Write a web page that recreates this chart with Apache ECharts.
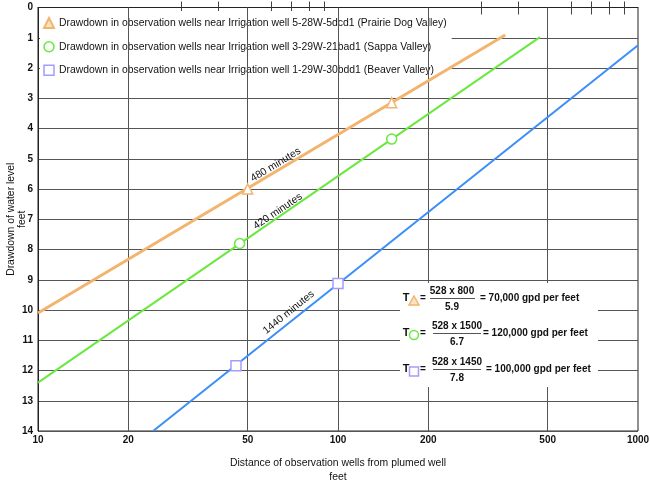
<!DOCTYPE html>
<html>
<head>
<meta charset="utf-8">
<script src="https://cdn.jsdelivr.net/npm/echarts@6/dist/echarts.min.js"></script>
<style>html,body{margin:0;padding:0;background:#fff}#c{width:650px;height:497px}</style>
</head>
<body>
<div id="c"></div>
<script>
// ---- data ----
const seriesNames = [
  'Drawdown in observation wells near Irrigation well 5-28W-5dcd1 (Prairie Dog Valley)',
  'Drawdown in observation wells near Irrigation well 3-29W-21bad1 (Sappa Valley)',
  'Drawdown in observation wells near Irrigation well 1-29W-30bdd1 (Beaver Valley)'
];
// straight-line fits (end points), distance in feet, drawdown in feet
const lineDistPrairie = [10, 361];
const lineDrawPrairie = [10.1, 0.91];
const lineDistSappa = [10, 471];
const lineDrawSappa = [12.4, 0.98];
const lineDistBeaver = [24.2, 1000];
const lineDrawBeaver = [14, 1.25];
// observation wells
const obsDistPrairie = [50, 151];
const obsDrawPrairie = [6.0, 3.15];
const obsDistSappa = [47, 151];
const obsDrawSappa = [7.8, 4.35];
const obsDistBeaver = [45.7, 100];
const obsDrawBeaver = [11.84, 9.12];
// durations labels
const durationLabels = ['480 minutes', '420 minutes', '1440 minutes'];
const durationDist = [62, 63, 68.5];
const durationDraw = [5.2, 6.74, 10.08];
// axis ticks
const xTickLabels = [10, 20, 50, 100, 200, 500, 1000];
const xGridValues = [20, 50, 100, 200, 500];
const xMinorTicks = [30, 40, 60, 70, 80, 90, 300, 400, 600, 700, 800, 900];

const FONT = 'Liberation Sans, Arial, Helvetica, sans-serif';
const cOrange = '#f2b46e', cGreen = '#6ae840', cBlue = '#3b8ef8', cBlueEdge = '#a49cff';

const zip = (a, b) => a.map((v, i) => [v, b[i]]);

const chart = echarts.init(document.getElementById('c'), null, {renderer: 'canvas'});

function lineSeries(name, xs, ys, color, width, extra) {
  return Object.assign({
    name: name, type: 'line', data: zip(xs, ys), showSymbol: false, symbol: 'none',
    lineStyle: {color: color, width: width}, itemStyle: {color: color}, z: 6, silent: true,
    animation: false
  }, extra || {});
}
function scatterSeries(name, xs, ys, symbol, size, border, bw) {
  return {
    name: name, type: 'scatter', data: zip(xs, ys), symbol: symbol, symbolSize: size,
    itemStyle: {color: '#fff', borderColor: border, borderWidth: bw, opacity: 1}, z: 7, animation: false
  };
}

const durationMark = (i, rot) => ({
  symbol: 'circle', symbolSize: 0, silent: true, animation: false,
  label: {show: true, position: 'inside', formatter: '{b}', rotate: rot, fontSize: 10.4, fontFamily: FONT, color: '#111'},
  data: [{name: durationLabels[i], coord: [durationDist[i], durationDraw[i]]}]
});

const option = {
  animation: false,
  grid: {left: 38, right: 12, top: 7.5, bottom: 66, show: true, borderColor: '#222', borderWidth: 1,
    containLabel: false, outerBoundsMode: 'none'},
  xAxis: [{
    type: 'log', logBase: 10, min: 10, max: 1000, position: 'bottom',
    name: 'Distance of observation wells from plumed well\nfeet', nameLocation: 'middle', nameGap: 25,
    nameMoveOverlap: false,
    nameTextStyle: {fontSize: 10.4, fontFamily: FONT, color: '#111', lineHeight: 14},
    axisLine: {show: true, lineStyle: {color: '#222', width: 1}},
    axisTick: {show: true, inside: true, length: 6, customValues: xMinorTicks, lineStyle: {color: '#444'}},
    axisLabel: {show: true, customValues: xTickLabels, fontSize: 10, fontWeight: 'bold', fontFamily: FONT, color: '#111', margin: 4,
      formatter: v => String(Math.round(v))},
    splitLine: {show: false}
  }, {
    type: 'log', logBase: 10, min: 10, max: 1000, position: 'top',
    axisLine: {show: false},
    axisTick: {show: true, inside: true, length: 7, customValues: xMinorTicks, lineStyle: {color: '#444'}},
    axisLabel: {show: false},
    splitLine: {show: false}
  }],
  yAxis: {
    type: 'value', inverse: true, min: 0, max: 14, interval: 1,
    name: 'Drawdown of water level\nfeet', nameLocation: 'middle', nameGap: 10, nameRotate: 90,
    nameMoveOverlap: false,
    nameTextStyle: {fontSize: 10.4, fontFamily: FONT, color: '#111', lineHeight: 11},
    axisLine: {show: true, lineStyle: {color: '#222', width: 1}},
    axisTick: {show: false},
    axisLabel: {fontSize: 10, fontWeight: 'bold', fontFamily: FONT, color: '#111', margin: 5},
    splitLine: {show: true, lineStyle: {color: '#555', width: 1}}
  },
  legend: {
    orient: 'vertical', left: 40, top: 11, backgroundColor: '#fff',
    padding: [6, 5, 2, 3], itemGap: 12, itemWidth: 10, itemHeight: 10, itemTextGap: 6,
    textStyle: {fontSize: 10.4, fontFamily: FONT, color: '#111'},
    selectedMode: false,
    data: [
      {name: seriesNames[0], icon: 'triangle', itemStyle: {color: '#fbe3c4', borderColor: cOrange, borderWidth: 2}},
      {name: seriesNames[1], icon: 'circle', itemStyle: {color: '#fff', borderColor: cGreen, borderWidth: 1.5}},
      {name: seriesNames[2], icon: 'rect', itemStyle: {color: '#fff', borderColor: cBlueEdge, borderWidth: 1.5}}
    ]
  },
  series: [
    lineSeries('gridx', [10, 1000], [0, 0], 'rgba(0,0,0,0)', 0, {
      z: 1,
      markLine: {silent: true, symbol: 'none', animation: false, label: {show: false},
        lineStyle: {color: '#555', width: 1, type: 'solid'},
        data: xGridValues.map(v => ({xAxis: v}))}
    }),
    lineSeries('linePrairie', lineDistPrairie, lineDrawPrairie, cOrange, 3, {markPoint: durationMark(0, 31)}),
    lineSeries('lineSappa', lineDistSappa, lineDrawSappa, cGreen, 2, {markPoint: durationMark(1, 34)}),
    lineSeries('lineBeaver', lineDistBeaver, lineDrawBeaver, cBlue, 2, {markPoint: durationMark(2, 39)}),
    scatterSeries(seriesNames[0], obsDistPrairie, obsDrawPrairie, 'triangle', 10, cOrange, 1.5),
    scatterSeries(seriesNames[1], obsDistSappa, obsDrawSappa, 'circle', 10, cGreen, 1.5),
    scatterSeries(seriesNames[2], obsDistBeaver, obsDrawBeaver, 'rect', 10, cBlueEdge, 1.5)
  ]
};

// formula box (annotation)
const formulas = [
  {num: '528 x 800', den: '5.9', res: '= 70,000 gpd per feet', fc: 452, l1: 430, l2: 475, rx: 480, y: 298, icon: 'tri'},
  {num: '528 x 1500', den: '6.7', res: '= 120,000 gpd per feet', fc: 457, l1: 433, l2: 481, rx: 483, y: 333, icon: 'circ'},
  {num: '528 x 1450', den: '7.8', res: '= 100,000 gpd per feet', fc: 457, l1: 433, l2: 481, rx: 486, y: 369, icon: 'sq'}
];
const tStyle = (extra) => Object.assign({fontSize: 10, fontWeight: 'bold', fontFamily: FONT, fill: '#111'}, extra);
const g = [{type: 'rect', shape: {x: 400, y: 283, width: 198, height: 104}, style: {fill: '#fff'}, z: 50}];
formulas.forEach(f => {
  g.push({type: 'text', x: 406, y: f.y, z: 51, style: tStyle({text: 'T', align: 'center', verticalAlign: 'middle', fontSize: 11})});
  if (f.icon === 'tri') g.push({type: 'polygon', z: 51, shape: {points: [[414, f.y - 2], [419, f.y + 7], [409, f.y + 7]]}, style: {fill: '#fbe3c4', stroke: cOrange, lineWidth: 1.5}});
  if (f.icon === 'circ') g.push({type: 'circle', z: 51, shape: {cx: 414, cy: f.y + 2, r: 4.5}, style: {fill: '#fff', stroke: cGreen, lineWidth: 1.5}});
  if (f.icon === 'sq') g.push({type: 'rect', z: 51, shape: {x: 409.5, y: f.y - 2, width: 9, height: 9}, style: {fill: '#fff', stroke: cBlueEdge, lineWidth: 1.5}});
  g.push({type: 'text', x: 423, y: f.y, z: 51, style: tStyle({text: '=', align: 'center', verticalAlign: 'middle'})});
  g.push({type: 'text', x: f.fc, y: f.y - 7, z: 51, style: tStyle({text: f.num, align: 'center', verticalAlign: 'middle'})});
  g.push({type: 'line', z: 51, shape: {x1: f.l1, y1: f.y + 0.5, x2: f.l2, y2: f.y + 0.5}, style: {stroke: '#555', lineWidth: 1}});
  g.push({type: 'text', x: f.fc, y: f.y + 9, z: 51, style: tStyle({text: f.den, align: 'center', verticalAlign: 'middle'})});
  g.push({type: 'text', x: f.rx, y: f.y, z: 51, style: tStyle({text: f.res, align: 'left', verticalAlign: 'middle'})});
});
option.graphic = g;

chart.setOption(option);
</script>
</body>
</html>
